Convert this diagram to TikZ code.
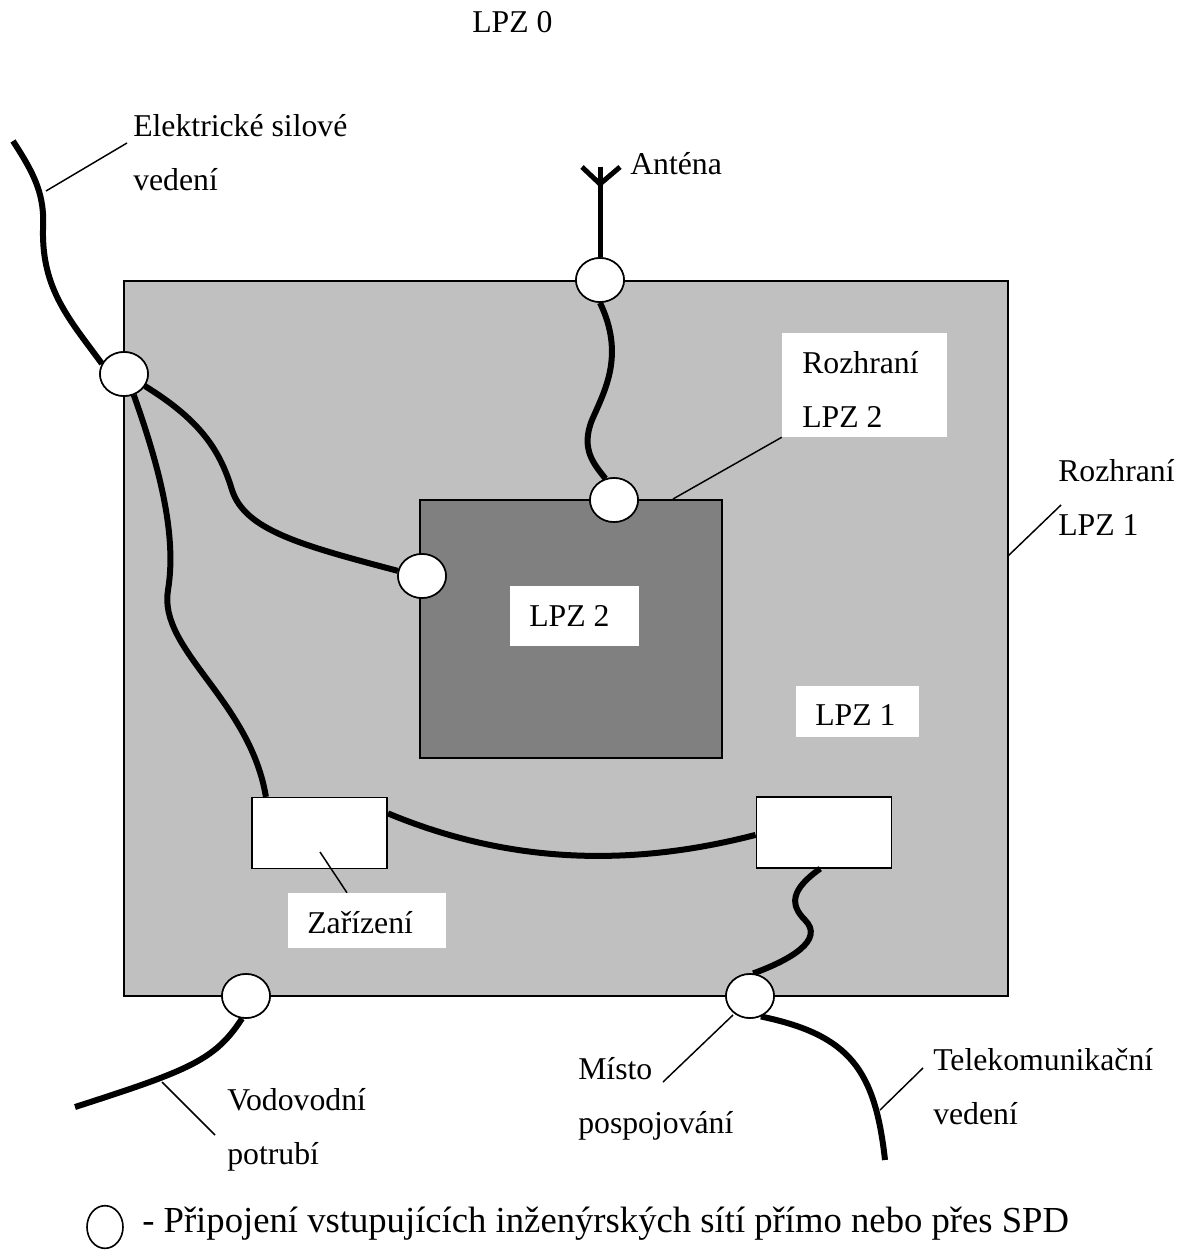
\documentclass[tikz,border=0pt]{standalone}
\usepackage{fontspec}
\setmainfont{Liberation Serif}
\usetikzlibrary{shapes.geometric}
\usetikzlibrary{positioning}
\definecolor{lpzonegray}{RGB}{192,192,192}
\definecolor{lpztwogray}{RGB}{128,128,128}
\tikzstyle{zone_one} = [
    rectangle,
    draw=black,
    fill=lpzonegray,
    line width=1.2pt,
    inner sep=0pt,
    minimum width=663pt,
    minimum height=536.25pt
]
\tikzstyle{zone_two} = [
    rectangle,
    draw=black,
    fill=lpztwogray,
    line width=1.2pt,
    inner sep=0pt,
    minimum width=226.5pt,
    minimum height=193.5pt
]
\tikzstyle{spd_node} = [
    ellipse,
    draw=black,
    fill=white,
    line width=1.2pt,
    inner sep=0pt,
    minimum width=36pt,
    minimum height=33pt
]
\tikzstyle{device_box} = [
    rectangle,
    draw=black,
    fill=white,
    line width=1.2pt,
    inner sep=0pt,
    minimum width=101.5pt,
    minimum height=53pt
]
\tikzstyle{label_box} = [
    rectangle,
    fill=white,
    inner sep=0pt
]
\tikzstyle{plain_text} = [
    font=\fontsize{23.8}{40.5}\selectfont,
    inner sep=0pt,
    anchor=base west,
    align=left
]
\tikzstyle{cable} = [
    line width=4.5pt,
    black
]
\tikzstyle{leader} = [
    line width=1.1pt,
    black
]

\begin{document}
\begin{tikzpicture}[x=0.75pt, y=-0.75pt]
\useasboundingbox (0,0) rectangle (1192,1251);

% zones
\node [zone_one] (lpz_one) at (566,638.5) {};
\node [zone_two] (lpz_two) at (571,629) {};

% white label boxes
\node [label_box, minimum width=123.75pt, minimum height=78pt] (r2_box) at (864.5,385) {};
\node [label_box, minimum width=96.75pt, minimum height=45pt] (l2_box) at (574.5,616) {};
\node [label_box, minimum width=92.25pt, minimum height=38.25pt] (l1_box) at (857.5,711.5) {};
\node [label_box, minimum width=118.5pt, minimum height=41.25pt] (dev_box) at (367,920.5) {};

% devices
\node [device_box] (dev_one) at (319.5,833) {};
\node [device_box] (dev_two) at (824,832.5) {};

% texts (base = last line)
\node [plain_text] (lpz_zero_text) at (472,33) {LPZ 0};
\node [plain_text] (elec_text) at (133,191) {Elektrické silové\\vedení};
\node [plain_text] (ant_text) at (630,175) {Anténa};
\node [plain_text] (r2_text) at (802,427) {Rozhraní\\LPZ 2};
\node [plain_text] (r1_text) at (1058,535) {Rozhraní\\LPZ 1};
\node [plain_text] (l2_text) at (529,626) {LPZ 2};
\node [plain_text] (l1_text) at (815,725) {LPZ 1};
\node [plain_text] (dev_text) at (307,933) {Zařízení};
\node [plain_text] (water_text) at (227,1164) {Vodovodní\\potrubí};
\node [plain_text] (bond_text) at (578,1133) {Místo\\pospojování};
\node [plain_text] (tele_text) at (933,1124) {Telekomunikační\\vedení};

% free ends
\coordinate (elec_end) at (13,141);
\coordinate (water_end) at (75,1107);
\coordinate (tele_end) at (885,1160);
\coordinate (ant_top) at (600,167);
\coordinate (ant_fork) at (600,184);
\coordinate (ant_left) at (582,167);
\coordinate (ant_right) at (620,167);

% junctions
\node [spd_node] (spd_elec) at (124,374) {};
\node [spd_node] (spd_ant) at (600,280) {};
\node [spd_node] (spd_top) at (614,500) {};
\node [spd_node] (spd_side) at (422,576) {};
\node [spd_node] (spd_water) at (246,996) {};
\node [spd_node] (spd_tele) at (750,996) {};

% cables
\draw [cable] (elec_end) .. controls (35,175) and (45,195) .. (43,230)
    .. controls (42,290) and (70,320) .. (spd_elec.155);
\draw [cable] (spd_elec.-65) .. controls (155,455) and (178,530) .. (168,590)
    .. controls (158,650) and (250,700) .. (dev_one.146);
\draw [cable] (spd_elec.-30) .. controls (200,420) and (220,450) .. (232,490)
    .. controls (245,530) and (300,545) .. (spd_side.168);
\draw [cable] (spd_ant.-90) .. controls (625,355) and (605,390) .. (592,420)
    .. controls (580,450) and (595,465) .. (spd_top.112);
\draw [cable] (dev_one.16) .. controls (500,860) and (620,870) .. (dev_two.-178);
\draw [cable] (dev_two.-96) .. controls (790,890) and (790,905) .. (805,920)
    .. controls (825,940) and (790,960) .. (spd_tele.82);
\draw [cable] (spd_tele.-62) .. controls (850,1035) and (875,1070) .. (tele_end);
\draw [cable] (spd_water.-100) .. controls (215,1060) and (190,1070) .. (water_end);

% antenna
\draw [line width=3.75pt] (ant_top) -- (spd_ant.north);
\draw [line width=3.75pt] (ant_left) -- (ant_fork) -- (ant_right);

% junctions on top of the cables
\foreach \spd in {spd_elec, spd_ant, spd_top, spd_side, spd_water, spd_tele}
    \node [spd_node] at (\spd) {};

% leaders
\coordinate (elec_from) at (127,143);
\coordinate (elec_tap) at (46,191);
\coordinate (r2_tap) at (673,499);
\coordinate (r1_from) at (1061,505);
\coordinate (r1_tap) at (1008,556);
\coordinate (dev_tap) at (320,852);
\coordinate (water_tap) at (162,1082);
\coordinate (water_from) at (215,1135);
\coordinate (bond_from) at (663,1082);
\coordinate (bond_tap) at (733,1015);
\coordinate (tele_tap) at (880,1110);
\coordinate (tele_from) at (923,1068);
\draw [leader] (elec_from) -- (elec_tap);
\draw [leader] (r2_box.south west) -- (r2_tap);
\draw [leader] (r1_from) -- (r1_tap);
\draw [leader] (dev_tap) -- (dev_box.north west -| 347,0);
\draw [leader] (water_tap) -- (water_from);
\draw [leader] (bond_from) -- (bond_tap);
\draw [leader] (tele_tap) -- (tele_from);

% legend
\node [spd_node, minimum width=27pt, minimum height=32pt] (spd_legend) at (105,1227) {};
\node [plain_text, font=\fontsize{27.5}{33}\selectfont] (legend_text) at (142,1232) {- Připojení vstupujících inženýrských sítí přímo nebo přes SPD};
\end{tikzpicture}
\end{document}
